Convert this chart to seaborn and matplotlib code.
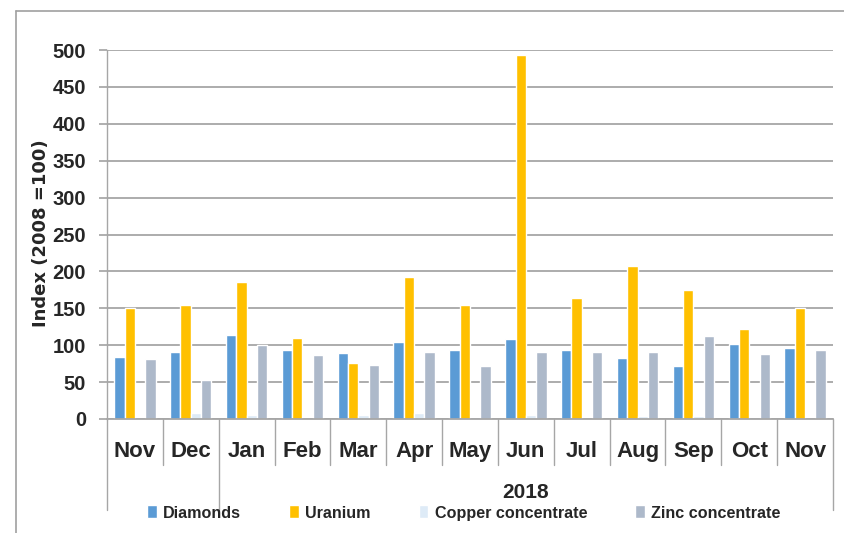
"""Mineral production index, Nov 2017 - Nov 2018, clustered bars."""

import matplotlib
matplotlib.use("Agg")
import matplotlib.pyplot as plt
import matplotlib.transforms as mtransforms
from matplotlib.lines import Line2D
import pandas as pd
import seaborn as sns

# category keys are unique; the tick labels repeat "Nov"
months = ["Nov17", "Dec17", "Jan", "Feb", "Mar", "Apr", "May",
          "Jun", "Jul", "Aug", "Sep", "Oct", "Nov18"]
month_labels = ["Nov", "Dec", "Jan", "Feb", "Mar", "Apr", "May",
                "Jun", "Jul", "Aug", "Sep", "Oct", "Nov"]
year_label = "2018"

series = ["Diamonds", "Uranium", "Copper concentrate", "Zinc concentrate"]
diamonds = [84, 91, 114, 93, 90, 104, 93, 108, 94, 82, 72, 101, 96]
uranium = [151, 155, 186, 110, 76, 192, 154, 493, 164, 207, 175, 122, 150]
copper = [0, 8, 6, 0, 5, 8, 0, 6, 0, 4, 4, 0, 0]
zinc = [81, 53, 100, 87, 73, 91, 72, 91, 91, 91, 112, 88, 93]

colors = ["#5B9BD5", "#FFC000", "#DEEBF7", "#ADB9CA"]

sns.set_theme(style="white")
plt.rcParams["font.family"] = ["Liberation Sans Narrow", "Liberation Sans", "DejaVu Sans"]
plt.rcParams["font.weight"] = "bold"

df = pd.DataFrame({
    "month": months * 4,
    "value": diamonds + uranium + copper + zinc,
    "series": [s for s in series for _ in months],
})

fig = plt.figure(figsize=(8.45, 5.33), dpi=100)
ax = fig.add_axes([107 / 845, 1 - 419 / 533, 726 / 845, 369 / 533])

sns.barplot(data=df, x="month", y="value", hue="series", order=months,
            hue_order=series, palette=colors, saturation=1, width=0.74,
            ax=ax)

grid_c = "#A6A6A6"
ax.set_ylim(0, 500)
ax.set_xlim(-0.5, len(months) - 0.5)
ax.set_yticks(range(0, 501, 50))
ax.yaxis.grid(True, color=grid_c, linewidth=1.3)
ax.set_axisbelow(True)
for side in ["top", "right"]:
    ax.spines[side].set_visible(False)
ax.spines["left"].set_color(grid_c)
ax.spines["bottom"].set_color(grid_c)
ax.spines["left"].set_linewidth(1.0)
ax.spines["bottom"].set_linewidth(1.3)

ax.tick_params(axis="y", left=True, length=6, color=grid_c, pad=9,
               labelsize=14.5)
ax.tick_params(axis="x", bottom=False, pad=10, labelsize=16)
ax.set_xticks(range(len(months)))
ax.set_xticklabels(month_labels, fontweight="bold")
for t in ax.get_yticklabels():
    t.set_fontweight("bold")
ax.set_xlabel("")
ax.set_ylabel("Index (2008 =100)", fontsize=13, fontweight="bold",
              family=["DejaVu Sans"])
ax.yaxis.set_label_coords(-0.079, 0.503)

# category separators below the axis
trans = mtransforms.blended_transform_factory(ax.transData, ax.transAxes)
for i in range(len(months) + 1):
    x = i - 0.5
    low = -0.247 if i in (0, 2, len(months)) else -0.125
    ax.add_line(Line2D([x, x], [0, low], transform=trans, color=grid_c,
                       linewidth=1.0, clip_on=False))
ax.text(7, -0.20, year_label, transform=trans, ha="center", va="center",
        fontsize=15, fontweight="bold")

handles, labels = ax.get_legend_handles_labels()
ax.get_legend().remove()
fig.legend(handles, labels, loc="center", bbox_to_anchor=(0.549, 1 - 513 / 533),
           ncol=4, frameon=False, handlelength=0.6, handleheight=0.85,
           handletextpad=0.4, columnspacing=2.97, borderpad=0,
           prop={"weight": "bold", "size": 11.6})

# outer chart border (top and left edges visible)
border_c = "#A0A0A0"
fig.add_artist(Line2D([16 / 845, 1.0], [1 - 11 / 533, 1 - 11 / 533],
                      transform=fig.transFigure, color=border_c, linewidth=1.2))
fig.add_artist(Line2D([16 / 845, 16 / 845], [0, 1 - 11 / 533],
                      transform=fig.transFigure, color=border_c, linewidth=1.2))

fig.savefig("out.png", dpi=100)
